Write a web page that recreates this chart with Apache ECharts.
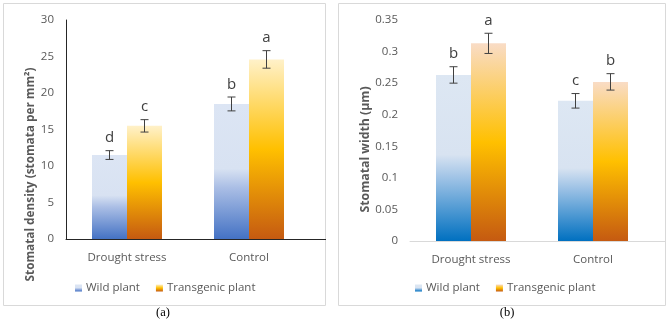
<!DOCTYPE html>
<html>
<head>
<meta charset="utf-8">
<script src="https://cdn.jsdelivr.net/npm/echarts@6/dist/echarts.min.js"></script>
<style>
  html, body { margin: 0; padding: 0; background: #fff; }
  #chart { width: 669px; height: 324px; }
</style>
</head>
<body>
<div id="chart"></div>
<script>
var categories = ['Drought stress', 'Control'];
var seriesNames = ['Wild plant', 'Transgenic plant'];

// (a) stomatal density
var densityTicks = { min: 0, max: 30, interval: 5 };
var densityWild = [11.5, 18.5];
var densityWildErr = [0.6, 0.95];
var densityWildLetters = ['d', 'b'];
var densityTrans = [15.5, 24.6];
var densityTransErr = [0.85, 1.2];
var densityTransLetters = ['c', 'a'];

// (b) stomatal width
var widthTicks = { min: 0, max: 0.35, interval: 0.05 };
var widthWild = [0.263, 0.222];
var widthWildErr = [0.013, 0.0115];
var widthWildLetters = ['b', 'c'];
var widthTrans = [0.313, 0.252];
var widthTransErr = [0.016, 0.013];
var widthTransLetters = ['a', 'b'];

var font = 'Open Sans';
var grey = '#595959';
var barW = 35;

function grad(stops) {
	return new echarts.graphic.LinearGradient(0, 0, 0, 1, stops.map(function (s) {
		return { offset: s[0], color: s[1] };
	}));
}
var wildA = [[0, '#dce5f4'], [0.48, '#d8e2f2'], [0.62, '#aabee5'], [1, '#4472c4']];
var transA = [[0, '#fff1c9'], [0.5, '#ffc000'], [1, '#c55a11']];
var wildB = [[0, '#dde7f3'], [0.48, '#d8e3f1'], [0.62, '#9fc3e6'], [1, '#0070c0']];
var transB = [[0, '#f9dcc6'], [0.5, '#ffc000'], [1, '#c55a11']];

function errData(vals, errs) {
	return vals.map(function (v, i) { return [i, v - errs[i], v + errs[i]]; });
}

function errRender(offset, letters) {
	return function (params, api) {
		var i = api.value(0);
		var lo = api.coord([i, api.value(1)]);
		var hi = api.coord([i, api.value(2)]);
		var x = lo[0] + offset;
		var st = { stroke: '#404040', lineWidth: 1 };
		return {
			type: 'group',
			children: [
				{ type: 'line', shape: { x1: x, y1: lo[1], x2: x, y2: hi[1] }, style: st },
				{ type: 'line', shape: { x1: x - 4, y1: lo[1], x2: x + 4, y2: lo[1] }, style: st },
				{ type: 'line', shape: { x1: x - 4, y1: hi[1], x2: x + 4, y2: hi[1] }, style: st },
				{ type: 'text', x: x, y: hi[1] - 5, style: {
					text: letters[i], fill: '#404040', font: '15px "' + font + '"',
					align: 'center', verticalAlign: 'bottom'
				} }
			]
		};
	};
}

function yAxis(idx, ticks, name, gap, shift, size, showLine) {
	return {
		type: 'value', gridIndex: idx, min: ticks.min, max: ticks.max, interval: ticks.interval,
		name: name, nameLocation: 'middle', nameGap: gap,
		nameTextStyle: { color: grey, fontFamily: font, fontWeight: 'bold', fontSize: size, padding: [0, shift, 0, 0] },
		axisLine: { show: showLine, lineStyle: { color: '#262626', width: 1 } },
		axisTick: { show: false },
		splitLine: { show: false },
		axisLabel: { color: grey, fontFamily: font, fontSize: 11.5, margin: 12 }
	};
}

function xAxis(idx, lineColor) {
	return {
		type: 'category', gridIndex: idx, data: categories,
		axisLine: { lineStyle: { color: lineColor, width: 1 } },
		axisTick: { show: false },
		axisLabel: { color: grey, fontFamily: font, fontSize: 11.5, margin: 13 }
	};
}

function legend(left, wildStops, transStops) {
	return {
		left: left, top: 277, itemWidth: 7, itemHeight: 7, itemGap: 16,
		icon: 'rect',
		textStyle: { color: grey, fontFamily: font, fontSize: 11.5, padding: [0, 0, 0, -1] },
		data: [
			{ name: seriesNames[0], itemStyle: { color: grad(wildStops) } },
			{ name: seriesNames[1], itemStyle: { color: grad(transStops) } }
		]
	};
}

var chart = echarts.init(document.getElementById('chart'));
chart.setOption({
	animation: false,
	grid: [
		{ left: 66, top: 20, width: 244, height: 219 },
		{ left: 410, top: 20, width: 244, height: 221 }
	],
	xAxis: [xAxis(0, '#262626'), xAxis(1, '#d9d9d9')],
	yAxis: [
		yAxis(0, densityTicks, 'Stomatal density (stomata per mm²)', 27, 90, 11.8, true),
		yAxis(1, widthTicks, 'Stomatal width (µm)', 36, 38, 12.3, false)
	],
	legend: [legend(70, wildA, transA), legend(410, wildB, transB)],
	graphic: [
		{ type: 'rect', shape: { x: 3.5, y: 3.5, width: 322, height: 302 }, style: { fill: 'none', stroke: '#d9d9d9' }, silent: true, z: -1 },
		{ type: 'rect', shape: { x: 338.5, y: 3.5, width: 327, height: 302 }, style: { fill: 'none', stroke: '#d9d9d9' }, silent: true, z: -1 },
		// plot-area edge continues past the last category, as in the source
		{ type: 'line', shape: { x1: 310, y1: 239.5, x2: 326, y2: 239.5 }, style: { stroke: '#262626', lineWidth: 1 }, silent: true },
		{ type: 'line', shape: { x1: 654, y1: 241.5, x2: 665, y2: 241.5 }, style: { stroke: '#d9d9d9', lineWidth: 1 }, silent: true },
		{ type: 'text', x: 163, y: 313, style: { text: '(a)', font: '12.5px "Liberation Serif"', fill: '#000', align: 'center', verticalAlign: 'middle' } },
		{ type: 'text', x: 507, y: 313, style: { text: '(b)', font: '12.5px "Liberation Serif"', fill: '#000', align: 'center', verticalAlign: 'middle' } }
	],
	series: [
		{ name: seriesNames[0], type: 'bar', xAxisIndex: 0, yAxisIndex: 0, data: densityWild,
			barWidth: barW, barGap: '0%', itemStyle: { color: grad(wildA) } },
		{ name: seriesNames[1], type: 'bar', xAxisIndex: 0, yAxisIndex: 0, data: densityTrans,
			barWidth: barW, barGap: '0%', itemStyle: { color: grad(transA) } },
		{ name: seriesNames[0], type: 'bar', xAxisIndex: 1, yAxisIndex: 1, data: widthWild,
			barWidth: barW, barGap: '0%', itemStyle: { color: grad(wildB) } },
		{ name: seriesNames[1], type: 'bar', xAxisIndex: 1, yAxisIndex: 1, data: widthTrans,
			barWidth: barW, barGap: '0%', itemStyle: { color: grad(transB) } },
		{ type: 'custom', xAxisIndex: 0, yAxisIndex: 0, z: 5, data: errData(densityWild, densityWildErr),
			renderItem: errRender(-barW / 2, densityWildLetters) },
		{ type: 'custom', xAxisIndex: 0, yAxisIndex: 0, z: 5, data: errData(densityTrans, densityTransErr),
			renderItem: errRender(barW / 2, densityTransLetters) },
		{ type: 'custom', xAxisIndex: 1, yAxisIndex: 1, z: 5, data: errData(widthWild, widthWildErr),
			renderItem: errRender(-barW / 2, widthWildLetters) },
		{ type: 'custom', xAxisIndex: 1, yAxisIndex: 1, z: 5, data: errData(widthTrans, widthTransErr),
			renderItem: errRender(barW / 2, widthTransLetters) }
	]
});
</script>
</body>
</html>
